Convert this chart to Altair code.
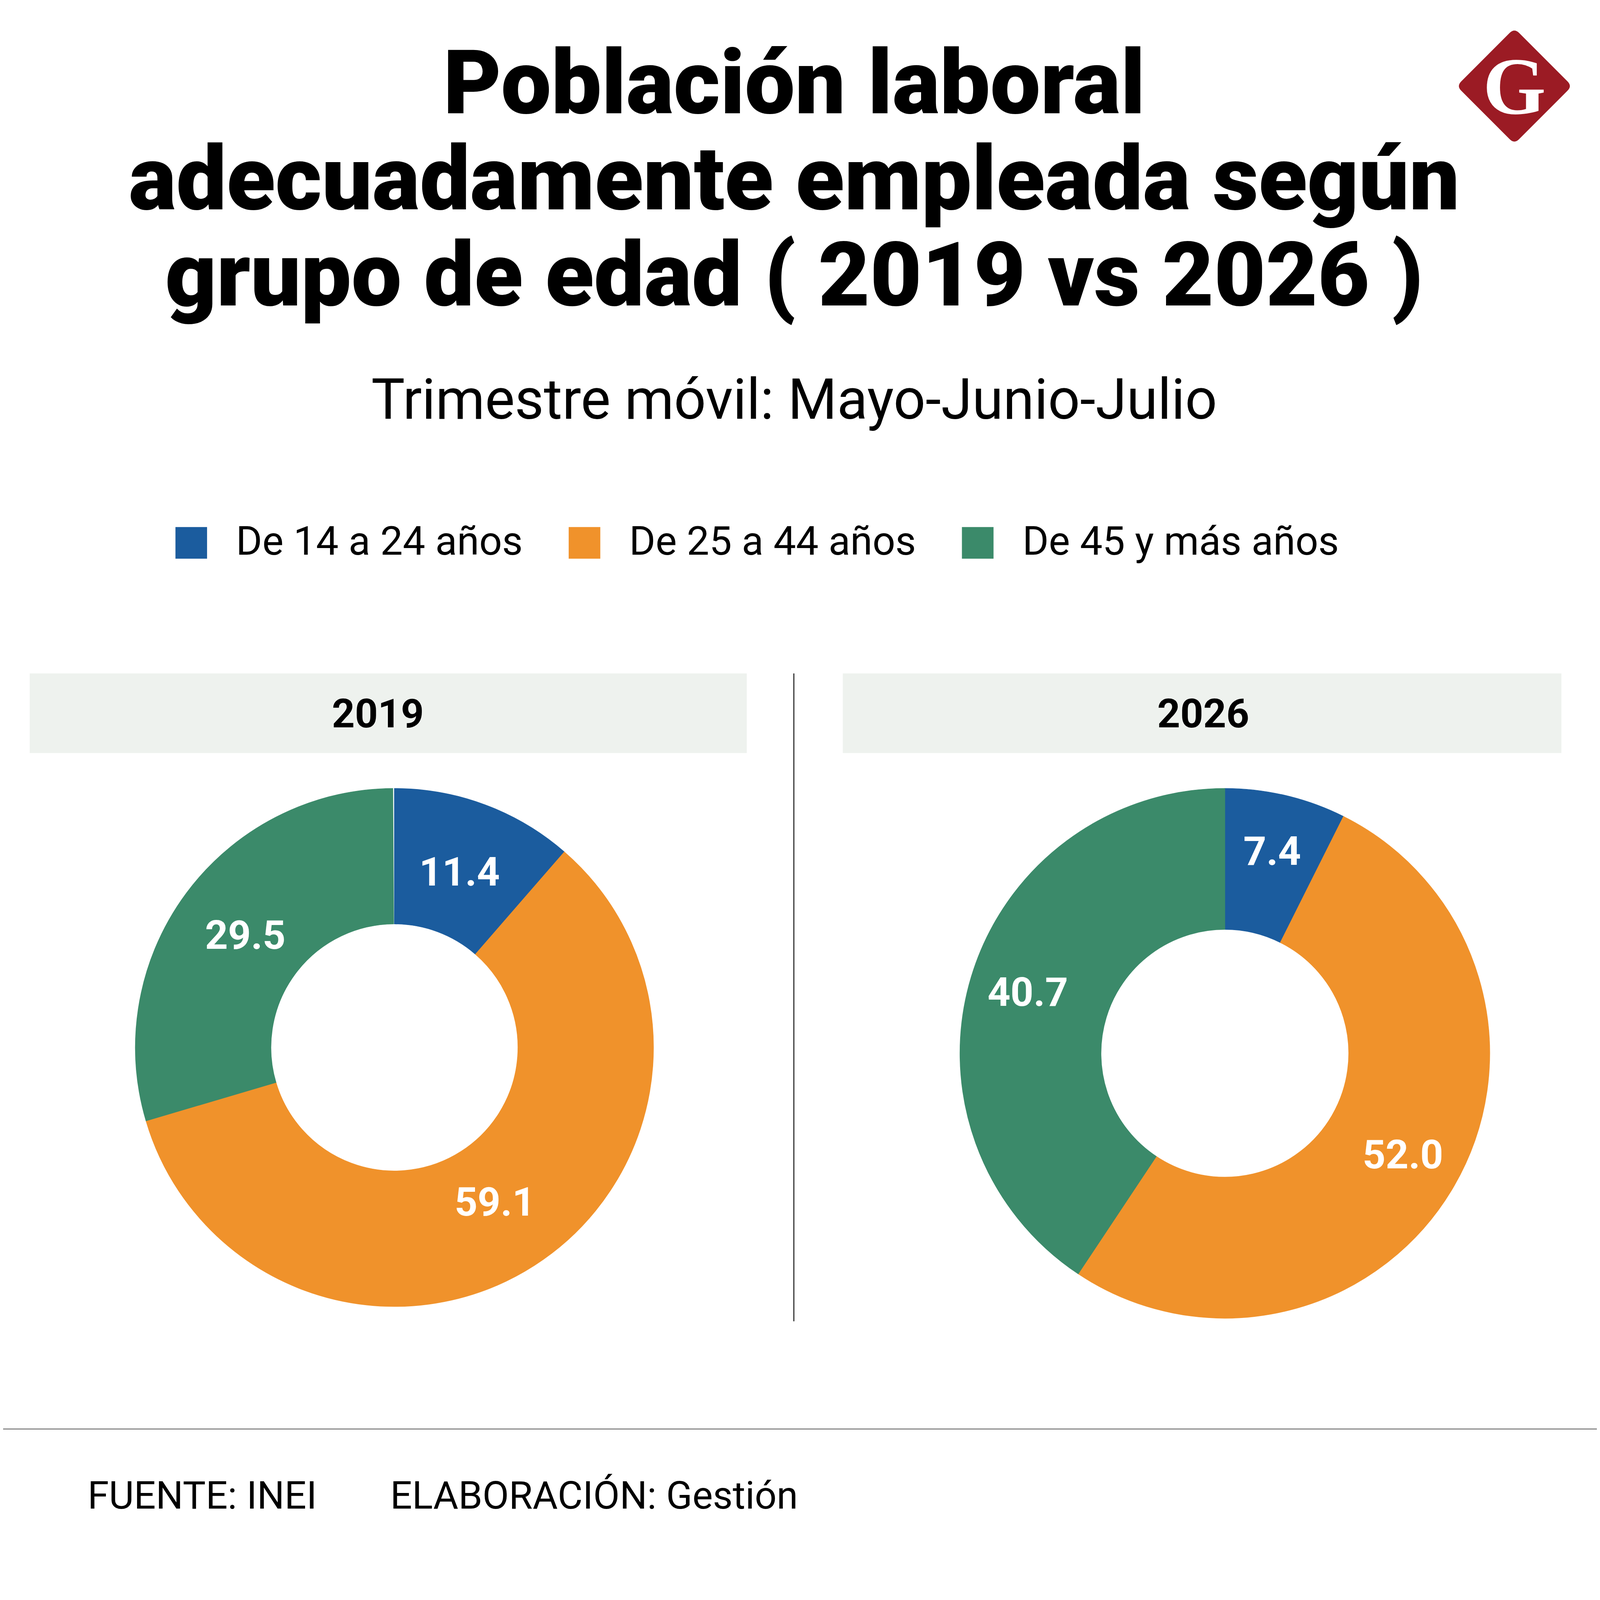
import altair as alt
import pandas as pd

# ---- data ----
groups = ["De 14 a 24 años", "De 25 a 44 años", "De 45 y más años"]
colors = ["#1B5C9E", "#F0922B", "#3B8A6A"]
years = ["2019", "2026"]
values_2019 = [11.4, 59.1, 29.5]
values_2026 = [7.4, 52.0, 40.7]

title_lines = [
    "Población laboral",
    "adecuadamente empleada según",
    "grupo de edad ( 2019 vs 2026 )",
]
subtitle = "Trimestre móvil: Mayo-Junio-Julio"
source = "FUENTE: INEI"
credit = "ELABORACIÓN: Gestión"

rows = []
for yr, vals in zip(years, [values_2019, values_2026]):
    for i, (g, v) in enumerate(zip(groups, vals)):
        rows.append({"year": yr, "group": g, "value": v, "idx": i})
df = pd.DataFrame(rows)

# ---- layout helpers ----
W, H = 4134, 4000
OFF_X = 8      # page margin
OFF_Y = 41     # observed vertical offset of the chart in the photo
S = 0.89       # vertical compression so the whole layout fits the photo
R = 0.945      # radius scale for donuts

TITLE_FONT = "Roboto"
BODY_FONT = "Roboto"


def X(v):
    return v - OFF_X


def Y(v):
    return v * S - OFF_Y


color_scale = alt.Scale(domain=groups, range=colors)
color_enc = alt.Color(
    "group:N",
    scale=color_scale,
    legend=alt.Legend(
        title=None,
        orient="none",
        direction="horizontal",
        legendX=X(444),
        legendY=Y(1577) - 41,
        symbolType="square",
        symbolSize=82 * 82,
        symbolStrokeWidth=0,
        symbolOpacity=1,
        labelFont=BODY_FONT,
        labelFontSize=104,
        labelColor="#000000",
        labelOffset=64,
        columnPadding=108,
        padding=0,
        labelLimit=2000,
    ),
)
stroke_enc = alt.Stroke("group:N", scale=color_scale, legend=None)


def txt(s, x, y, size, weight="normal", font=BODY_FONT, align="center", color="#000000"):
    return (
        alt.Chart(pd.DataFrame({"t": [s]}))
        .mark_text(
            font=font,
            fontSize=size,
            fontWeight=weight,
            align=align,
            baseline="alphabetic",
            color=color,
        )
        .encode(text="t:N", x=alt.value(X(x)), y=alt.value(y))
    )


layers = []

# title
for line, base in zip(title_lines, [337, 617, 898]):
    layers.append(txt(line, 2060, Y(base), 232, weight=900, font=TITLE_FONT))
layers.append(txt(subtitle, 2060, Y(1228), 146))

# logo
logo_path = (
    "M -0.08,-0.92 Q 0,-1 0.08,-0.92 L 0.92,-0.08 Q 1,0 0.92,0.08 "
    "L 0.08,0.92 Q 0,1 -0.08,0.92 L -0.92,0.08 Q -1,0 -0.92,-0.08 Z"
)
logo_cy = Y(258)
layers.append(
    alt.Chart(pd.DataFrame({"t": ["G"]}))
    .mark_point(shape=logo_path, filled=True, color="#9B1B24", opacity=1, strokeWidth=0)
    .encode(x=alt.value(X(3928)), y=alt.value(logo_cy), size=alt.value(300 * 300))
)
layers.append(txt("G", 3928, logo_cy + 72, 210, weight="bold", font="Liberation Serif", color="#FFFFFF"))

# panel headers
for x1, x2 in [(77, 1937), (2186, 4050)]:
    layers.append(
        alt.Chart(pd.DataFrame({"t": [0]}))
        .mark_rect(color="#EEF2EE")
        .encode(
            x=alt.value(X(x1)), x2=alt.value(X(x2)),
            y=alt.value(Y(1970)), y2=alt.value(Y(2202)),
        )
    )
hdr_base = (Y(1970) + Y(2202)) / 2 + 37
layers.append(txt("2019", 980, hdr_base, 104, weight="bold"))
layers.append(txt("2026", 3121, hdr_base, 104, weight="bold"))

# divider
layers.append(
    alt.Chart(pd.DataFrame({"t": [0]}))
    .mark_rule(color="#333333", strokeWidth=3)
    .encode(x=alt.value(X(2059)), y=alt.value(Y(1970)), y2=alt.value(Y(3858)))
)

# donuts
donut_geo = {
    "2019": dict(cx=1023, cy=3060, r_out=711, r_in=339, r_lab=510),
    "2026": dict(cx=3177, cy=3077, r_out=727, r_in=340, r_lab=565),
}
for yr in years:
    g = donut_geo[yr]
    base = alt.Chart(df).transform_filter(alt.datum.year == yr)
    theta = alt.Theta("value:Q", stack=True)
    order = alt.Order("idx:Q", sort="ascending")
    arcs = base.mark_arc(
        innerRadius=g["r_in"] * R, outerRadius=g["r_out"] * R, strokeWidth=1.5
    ).encode(
        theta=theta, order=order, color=color_enc, stroke=stroke_enc,
        x=alt.value(X(g["cx"])), y=alt.value(Y(g["cy"])),
    )
    labels = base.mark_text(
        radius=g["r_lab"] * R, font=BODY_FONT, fontSize=104, fontWeight="bold",
        color="#FFFFFF", baseline="middle", align="center",
    ).encode(
        theta=theta, order=order,
        text=alt.Text("value:Q", format=".1f"),
        x=alt.value(X(g["cx"])), y=alt.value(Y(g["cy"])),
    )
    layers += [arcs, labels]

# bottom rule and footer
layers.append(
    alt.Chart(pd.DataFrame({"t": [0]}))
    .mark_rule(color="#888888", strokeWidth=3)
    .encode(x=alt.value(0), x2=alt.value(W), y=alt.value(Y(4172)))
)
layers.append(txt(source, 227, Y(4404), 100, align="left"))
layers.append(txt(credit, 1012, Y(4404), 100, align="left"))

chart = (
    alt.layer(*layers)
    .properties(width=W, height=H, padding=0, autosize="none", background="#FFFFFF")
    .configure_view(stroke=None)
)

chart.save("out.html", embed_options={"renderer": "svg", "actions": False})
